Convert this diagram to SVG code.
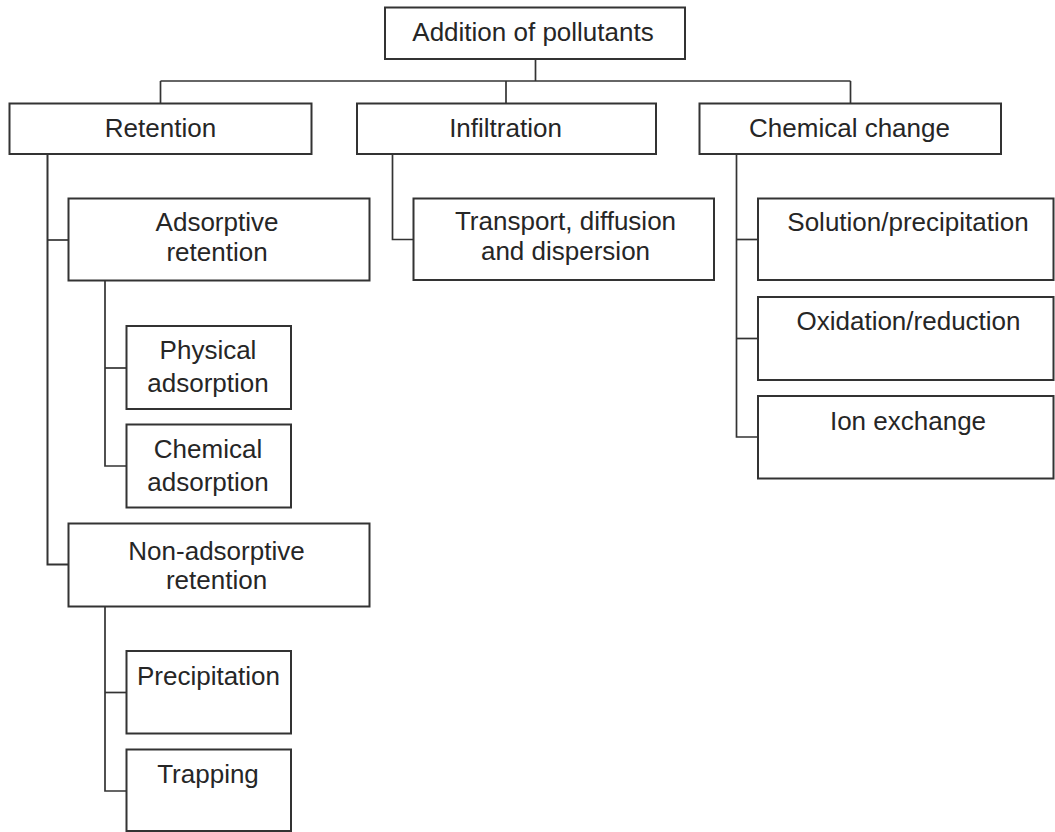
<svg xmlns="http://www.w3.org/2000/svg" width="1055" height="832" viewBox="0 0 1055 832">
  <style>
    .box { fill: #ffffff; stroke: #333333; stroke-width: 2; }
    .conn { fill: none; stroke: #333333; stroke-width: 1.7; }
    .lbl { font-family: "Liberation Sans", Arial, sans-serif; font-size: 26px; fill: #262626; text-anchor: middle; }
  </style>
  <rect x="0" y="0" width="1055" height="832" fill="#ffffff"/>
  <g id="connectors">
    <path class="conn" d="M535.5 59 V81"/>
    <path class="conn" d="M160.5 81 H850.5"/>
    <path class="conn" d="M160.5 81 V103.5"/>
    <path class="conn" d="M506 81 V103.5"/>
    <path class="conn" d="M850.5 81 V103.5"/>
    <path class="conn" d="M47.5 154 V564.5 H68.5" style="stroke-width:2"/>
    <path class="conn" d="M47.5 240 H68.5"/>
    <path class="conn" d="M105 281 V466 H126.5"/>
    <path class="conn" d="M105 368 H126.5"/>
    <path class="conn" d="M105 607 V791 H126.5"/>
    <path class="conn" d="M105 692.5 H126.5"/>
    <path class="conn" d="M392.5 154 V239.5 H413.5"/>
    <path class="conn" d="M736.5 154 V437 H758"/>
    <path class="conn" d="M736.5 239.5 H758"/>
    <path class="conn" d="M736.5 338.5 H758"/>
  </g>
  <g id="n-addition">
    <rect class="box" x="385" y="7.5" width="300" height="51.5"/>
    <text class="lbl" x="533" y="40.5">Addition of pollutants</text>
  </g>
  <g id="n-retention">
    <rect class="box" x="9.5" y="103.5" width="302" height="50.5"/>
    <text class="lbl" x="160.5" y="137">Retention</text>
  </g>
  <g id="n-infiltration">
    <rect class="box" x="357" y="103.5" width="299" height="50.5"/>
    <text class="lbl" x="505.5" y="137">Infiltration</text>
  </g>
  <g id="n-chemical-change">
    <rect class="box" x="699.5" y="103.5" width="301.5" height="50.5"/>
    <text class="lbl" x="849.5" y="137">Chemical change</text>
  </g>
  <g id="n-adsorptive">
    <rect class="box" x="68.5" y="198.5" width="301" height="82"/>
    <text class="lbl" x="217" y="230.5">Adsorptive</text>
    <text class="lbl" x="217" y="261">retention</text>
  </g>
  <g id="n-physical">
    <rect class="box" x="126.5" y="326" width="164.5" height="83"/>
    <text class="lbl" x="208" y="359">Physical</text>
    <text class="lbl" x="208" y="392">adsorption</text>
  </g>
  <g id="n-chemical-ads">
    <rect class="box" x="126.5" y="424.5" width="164.5" height="83"/>
    <text class="lbl" x="208" y="458">Chemical</text>
    <text class="lbl" x="208" y="491">adsorption</text>
  </g>
  <g id="n-nonadsorptive">
    <rect class="box" x="68.5" y="523.5" width="301" height="83"/>
    <text class="lbl" x="216.5" y="559.5">Non-adsorptive</text>
    <text class="lbl" x="216.5" y="588.5">retention</text>
  </g>
  <g id="n-precipitation">
    <rect class="box" x="126.5" y="651" width="164.5" height="82.5"/>
    <text class="lbl" x="208.5" y="684.5">Precipitation</text>
  </g>
  <g id="n-trapping">
    <rect class="box" x="126.5" y="749.5" width="164.5" height="81.5"/>
    <text class="lbl" x="208" y="782.5">Trapping</text>
  </g>
  <g id="n-transport">
    <rect class="box" x="413.5" y="198.5" width="300.5" height="81.5"/>
    <text class="lbl" x="565.5" y="230">Transport, diffusion</text>
    <text class="lbl" x="565.5" y="260">and dispersion</text>
  </g>
  <g id="n-solution">
    <rect class="box" x="758" y="198.5" width="295.5" height="81.5"/>
    <text class="lbl" x="908" y="231">Solution/precipitation</text>
  </g>
  <g id="n-oxidation">
    <rect class="box" x="758" y="297" width="295.5" height="83"/>
    <text class="lbl" x="908.5" y="330">Oxidation/reduction</text>
  </g>
  <g id="n-ion">
    <rect class="box" x="758" y="396" width="295.5" height="82.5"/>
    <text class="lbl" x="908" y="429.5">Ion exchange</text>
  </g>
</svg>
